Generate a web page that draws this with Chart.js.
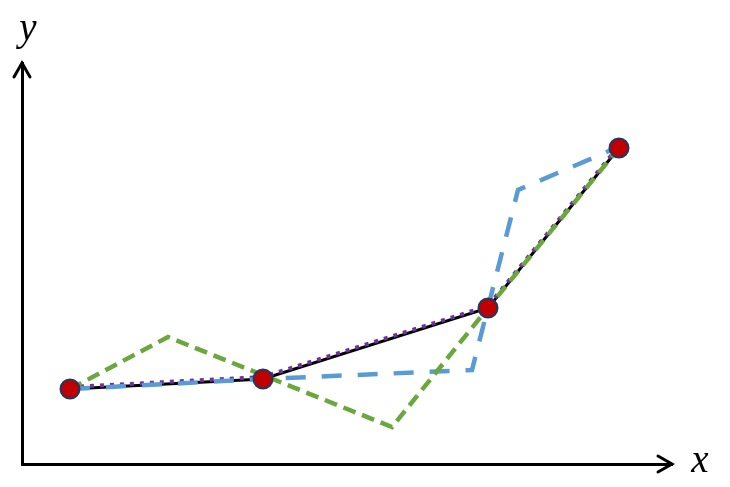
<!DOCTYPE html>
<html><head><meta charset="utf-8">
<script src="https://cdn.jsdelivr.net/npm/chart.js@4/dist/chart.umd.min.js"></script>
<style>html,body{margin:0;padding:0;background:#fff}#wrap{width:730px;height:487px}</style>
</head><body><div id="wrap"><canvas id="c" width="730" height="487"></canvas></div>
<script>
const pointsX = [48, 241, 466, 597];
const pointsY = [75, 85, 156, 316];
const purpleX = [48, 241, 466, 597];
const purpleY = [77, 87, 158, 318];
const blueX = [48, 241, 450, 496, 615];
const blueY = [75, 85, 94, 274, 325];
const greenX = [48, 146, 370, 466, 597];
const greenY = [75, 127, 37, 156, 316];
const axisLabels = ['x', 'y'];

const xy = (xs, ys) => xs.map((x, i) => ({x: x, y: ys[i]}));

const arrows = {
  id: 'arrows',
  afterDraw(chart) {
    const ctx = chart.ctx;
    const xs = chart.scales.x, ys = chart.scales.y;
    const x0 = xs.left, y0 = ys.bottom, xt = xs.right, yt = ys.top;
    ctx.save();
    ctx.strokeStyle = '#000';
    ctx.lineWidth = 3;
    ctx.lineCap = 'round';
    ctx.lineJoin = 'miter';
    ctx.beginPath();
    ctx.moveTo(x0 - 8, yt + 14); ctx.lineTo(x0, yt); ctx.lineTo(x0 + 8, yt + 14);
    ctx.stroke();
    ctx.beginPath();
    ctx.moveTo(xt - 14, y0 - 8); ctx.lineTo(xt, y0); ctx.lineTo(xt - 14, y0 + 8);
    ctx.stroke();
    ctx.fillStyle = '#000';
    ctx.font = 'italic 39px "Liberation Serif", "DejaVu Serif", serif';
    ctx.textAlign = 'center';
    ctx.textBaseline = 'alphabetic';
    ctx.fillText(axisLabels[0], xt + 28, y0 + 8);
    ctx.fillText(axisLabels[1], x0 + 6, yt - 23);
    ctx.restore();
  }
};

new Chart(document.getElementById('c'), {
  type: 'scatter',
  data: {
    datasets: [
      {data: xy(pointsX, pointsY), showLine: false, pointRadius: 9.5, pointHoverRadius: 9.5,
       pointBackgroundColor: '#C00000', pointBorderColor: '#1F3864', pointBorderWidth: 2, order: 0},
      {data: xy(greenX, greenY), showLine: true, borderColor: '#6AA83E', borderWidth: 4.5,
       borderDash: [13, 7], pointRadius: 0, order: 1},
      {data: xy(blueX, blueY), showLine: true, borderColor: '#5B9BD5', borderWidth: 4.5,
       borderDash: [20, 16], pointRadius: 0, order: 2},
      {data: xy(purpleX, purpleY), showLine: true, borderColor: '#7030A0', borderWidth: 4,
       borderDash: [4, 6], pointRadius: 0, order: 3},
      {data: xy(pointsX, pointsY), showLine: true, borderColor: '#000000', borderWidth: 3,
       pointRadius: 0, order: 4}
    ]
  },
  options: {
    responsive: false,
    animation: false,
    events: [],
    layout: {padding: {left: 22, top: 63, right: 58, bottom: 23}},
    plugins: {legend: {display: false}, tooltip: {enabled: false}},
    scales: {
      x: {type: 'linear', min: 0, max: 650, ticks: {display: false},
          grid: {display: false, drawTicks: false}, border: {display: true, color: '#000', width: 3}},
      y: {type: 'linear', min: 0, max: 401, ticks: {display: false},
          grid: {display: false, drawTicks: false}, border: {display: true, color: '#000', width: 3}}
    }
  },
  plugins: [arrows]
});
</script></body></html>
